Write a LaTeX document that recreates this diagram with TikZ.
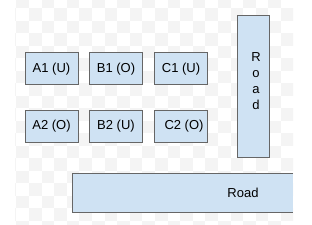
\documentclass[tikz,border=0pt]{standalone}
\usepackage{fontspec}
\setmainfont{Liberation Sans}
\definecolor{boxfill}{HTML}{CFE2F3}
\definecolor{boxline}{HTML}{666666}
\definecolor{checker}{HTML}{F4F4F4}
\begin{document}
\begin{tikzpicture}[x=1pt,y=-1pt,
  lot/.style={draw=boxline, fill=boxfill, line width=1pt, inner sep=0pt, outer sep=0pt,
    minimum width=53pt, minimum height=32pt, font=\fontsize{13}{15}\selectfont},
  road/.style={draw=boxline, fill=boxfill, line width=1pt},
  roadtext/.style={inner sep=0pt, font=\fontsize{13}{16}\selectfont, align=center}]
\useasboundingbox (0,0) rectangle (312,224);
\fill[white] (0,0) rectangle (312,224);
% faint checkerboard background
\begin{scope}
\clip (15,0) rectangle (293,224);
\foreach \i in {0,...,23}{
  \foreach \j in {0,...,18}{
    \pgfmathtruncatemacro{\chk}{mod(\i+\j,2)}
    \ifnum\chk=1
      \fill[checker] (3.8+12.6*\i,-4.2+12.5*\j) rectangle ++(12.6,12.5);
    \fi
  }
}
\end{scope}
% lots
\node[lot] (A1) at (51.5,69) {A1 (U)};
\node[lot] (B1) at (116,69) {B1 (O)};
\node[lot] (C1) at (181,69) {C1 (U)};
\node[lot] (A2) at (51.5,126.5) {A2 (O)};
\node[lot] (B2) at (116,126.5) {B2 (U)};
\node[lot] (C2) at (181,126.5) {\hspace*{6pt}C2 (O)};
% vertical road
\draw[road] (237,16) rectangle (269,157);
\node[roadtext] (VR) at (256,81) {R\\o\\a\\d};
% horizontal road (clipped at right edge)
\fill[boxfill] (72,173) rectangle (293,212);
\draw[boxline, line width=1pt] (293,173) -- (72,173) -- (72,212) -- (293,212);
\node[inner sep=0pt, font=\fontsize{13}{15}\selectfont] (HR) at (243,193) {Road};
\end{tikzpicture}
\end{document}
